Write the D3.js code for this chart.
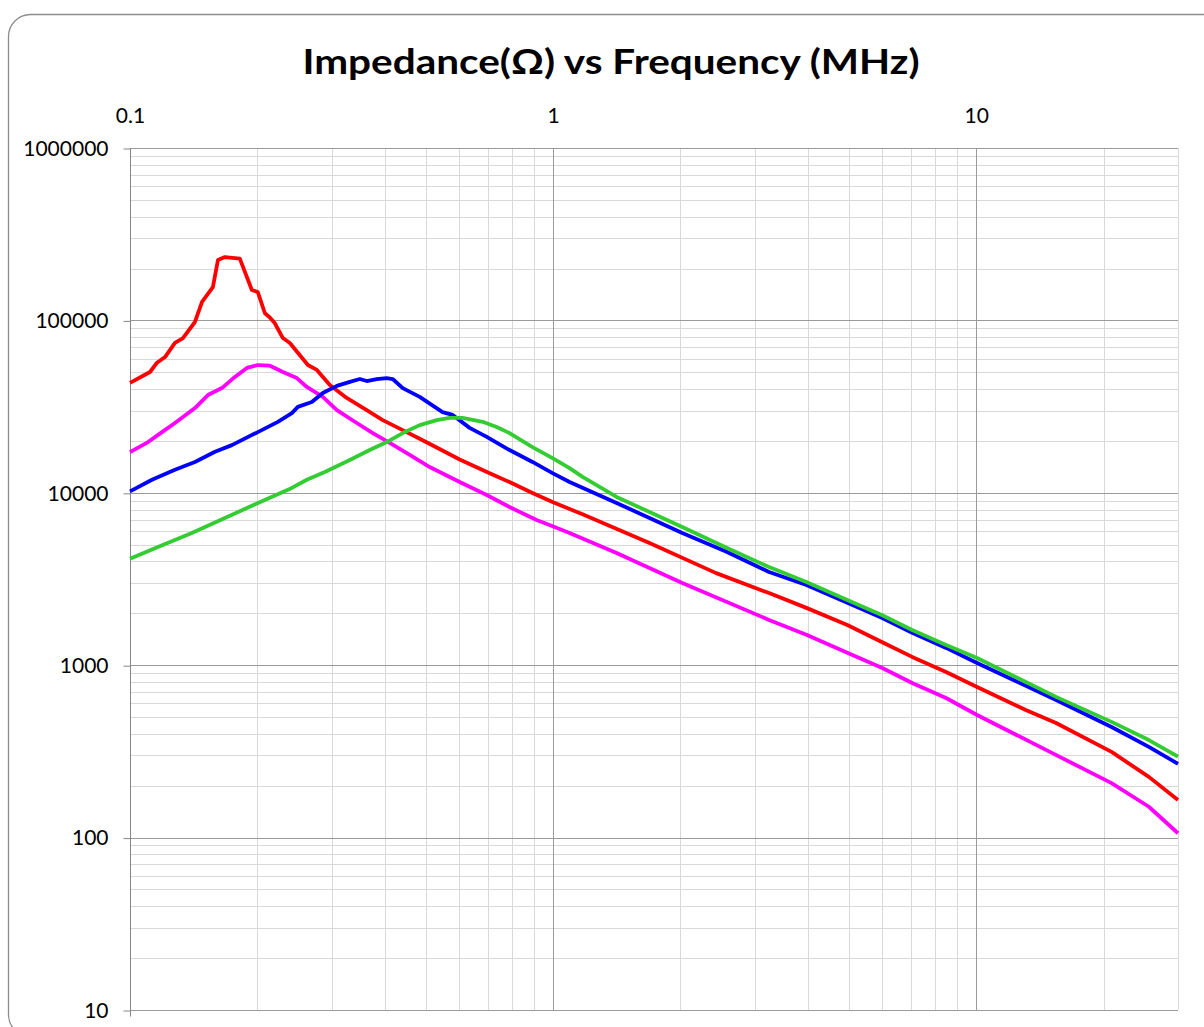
<!DOCTYPE html>
<html>
<head>
<meta charset="utf-8">
<script src="https://cdn.jsdelivr.net/npm/d3@7"></script>
<style>
  body { margin: 0; background: #fff; }
  text { font-family: Lato, "Open Sans", sans-serif; fill: #000; }
</style>
</head>
<body>
<script>
// impedance curves, [frequency MHz, impedance ohm]
const red = [
  [0.1, 43400], [0.1115, 50200], [0.1156, 56600], [0.121, 61300], [0.1277, 74000],
  [0.1334, 79000], [0.1424, 97900], [0.148, 128000], [0.157, 156000], [0.1614, 224000],
  [0.1676, 233000], [0.1818, 228000], [0.1941, 150000], [0.2005, 146000], [0.2084, 110000],
  [0.2141, 104000], [0.2198, 96600], [0.2298, 79000], [0.2387, 74000], [0.2633, 55100],
  [0.2765, 51600], [0.2967, 42200], [0.3253, 35500], [0.3627, 30200], [0.3957, 26400],
  [0.4412, 23100], [0.4839, 20600], [0.5308, 18300], [0.6016, 15600], [0.708, 13000],
  [0.789, 11550], [0.894, 9980], [0.997, 8850], [1.174, 7500], [1.69, 5110],
  [2.43, 3420], [3.24, 2620], [3.97, 2150], [4.96, 1710], [6.0, 1360],
  [7.06, 1117], [8.49, 914], [10.05, 748], [13.1, 550], [15.45, 462],
  [20.9, 314], [25.6, 225], [30, 165]
];
const magenta = [
  [0.1, 17200], [0.1103, 19700], [0.119, 22500], [0.1277, 25400], [0.1424, 31000],
  [0.1528, 36900], [0.1649, 40500], [0.177, 47000], [0.1889, 53000], [0.2005, 55100],
  [0.2141, 54600], [0.2198, 53000], [0.2298, 50200], [0.2479, 46300], [0.2618, 41100],
  [0.2856, 36000], [0.3083, 30200], [0.3436, 25400], [0.3749, 22200], [0.4111, 19500],
  [0.4584, 16600], [0.511, 14100], [0.6016, 11550], [0.697, 9710], [0.789, 8270],
  [0.914, 6950], [0.981, 6500], [1.094, 5850], [1.413, 4480], [2.02, 3000],
  [3.24, 1830], [3.97, 1500], [4.96, 1180], [6.0, 964], [7.06, 789],
  [8.49, 645], [10.05, 514], [15.1, 310], [20.9, 207], [25.6, 151], [30, 106]
];
const blue = [
  [0.1, 10200], [0.1127, 11900], [0.1277, 13600], [0.1424, 15100], [0.1588, 17300],
  [0.1741, 18900], [0.2005, 22500], [0.2236, 25800], [0.2413, 29000], [0.2493, 31500],
  [0.269, 33600], [0.2856, 37900], [0.3083, 41700], [0.3308, 44000], [0.3493, 45700],
  [0.3627, 44500], [0.383, 45700], [0.4044, 46300], [0.4178, 45700], [0.4412, 40500],
  [0.4839, 36000], [0.548, 29400], [0.579, 28300], [0.635, 23800], [0.697, 21100],
  [0.789, 17700], [0.894, 15100], [0.997, 13000], [1.094, 11550], [1.413, 8730],
  [2.02, 5850], [2.57, 4550], [3.24, 3470], [3.97, 2920], [4.96, 2300],
  [6.0, 1880], [7.06, 1540], [8.49, 1260], [10.05, 1030], [15.45, 628],
  [20.9, 438], [25.6, 336], [30, 268]
];
const green = [
  [0.1, 4150], [0.1164, 4850], [0.14, 5850], [0.1676, 7140], [0.2007, 8730],
  [0.2413, 10670], [0.2618, 11900], [0.2887, 13200], [0.3308, 15500], [0.3686, 17700],
  [0.4044, 19700], [0.4412, 22200], [0.4839, 24700], [0.5308, 26400], [0.5697, 27200],
  [0.611, 27200], [0.6817, 25800], [0.7355, 24100], [0.789, 22200], [0.894, 18400],
  [0.997, 15900], [1.094, 13900], [1.174, 12360], [1.413, 9460], [2.02, 6340],
  [2.57, 4800], [3.24, 3710], [3.97, 3040], [4.96, 2390], [6.0, 1950],
  [7.06, 1600], [8.49, 1310], [10.05, 1100], [15.45, 655], [20.9, 469],
  [25.6, 368], [30, 295]
];
const series = [
  { name: "magenta", values: magenta, color: "#ff00ff" },
  { name: "red", values: red, color: "#ff0000" },
  { name: "blue", values: blue, color: "#0000ff" },
  { name: "green", values: green, color: "#33cc33" }
];
const xTickLabels = [0.1, 1, 10];
const yTickLabels = [10, 100, 1000, 10000, 100000, 1000000];
const title = "Impedance(Ω) vs Frequency (MHz)";

const W = 1204, H = 1027;
const margin = {top: 148, right: 26, bottom: 17, left: 130};

const svg = d3.select("body").append("svg")
    .attr("width", W)
    .attr("height", H);

// chart frame (runs off the right and bottom of the picture)
svg.append("rect")
    .attr("x", 8.5).attr("y", 14.5)
    .attr("width", 1220).attr("height", 1022)
    .attr("rx", 22)
    .attr("fill", "#fff")
    .attr("stroke", "#8c8c8c")
    .attr("stroke-width", 1.3);

const x = d3.scaleLog()
    .domain([0.1, 30])
    .range([margin.left, W - margin.right]);
const y = d3.scaleLog()
    .domain([10, 1000000])
    .range([H - margin.bottom, margin.top]);

const isMajor = v => Math.abs(Math.log10(v) - Math.round(Math.log10(v))) < 1e-9;

// gridlines
const grid = svg.append("g");
grid.selectAll(".vminor")
    .data(x.ticks().filter(v => !isMajor(v)))
  .enter().append("line")
    .attr("x1", d => Math.round(x(d)) + 0.5).attr("x2", d => Math.round(x(d)) + 0.5)
    .attr("y1", y(1000000)).attr("y2", y(10))
    .attr("stroke", "#d9d9d9");
grid.selectAll(".hminor")
    .data(y.ticks().filter(v => !isMajor(v)))
  .enter().append("line")
    .attr("x1", x(0.1)).attr("x2", x(30))
    .attr("y1", d => Math.round(y(d)) + 0.5).attr("y2", d => Math.round(y(d)) + 0.5)
    .attr("stroke", "#d9d9d9");
grid.selectAll(".vmajor")
    .data(x.ticks().filter(isMajor))
  .enter().append("line")
    .attr("x1", d => Math.round(x(d)) + 0.5).attr("x2", d => Math.round(x(d)) + 0.5)
    .attr("y1", y(1000000)).attr("y2", y(10))
    .attr("stroke", "#9a9a9a");
grid.selectAll(".hmajor")
    .data(y.ticks().filter(isMajor))
  .enter().append("line")
    .attr("x1", x(0.1)).attr("x2", x(30))
    .attr("y1", d => Math.round(y(d)) + 0.5).attr("y2", d => Math.round(y(d)) + 0.5)
    .attr("stroke", "#9a9a9a");

// y axis on the left
const yAxis = svg.append("g")
    .attr("transform", "translate(" + (margin.left + 0.5) + ",0.5)")
    .call(d3.axisLeft(y)
      .tickValues(yTickLabels)
      .tickFormat(d3.format("d"))
      .tickSize(7)
      .tickPadding(15));
yAxis.select(".domain").attr("stroke", "#868686").attr("d", "M0," + (y(1000000)) + "V" + (y(10) + 6));
yAxis.selectAll(".tick line").attr("stroke", "#868686");
yAxis.selectAll("text")
    .style("font-family", "Lato, sans-serif")
    .style("font-size", "21px")
    .attr("fill", "#000");

// frequency labels along the top
const xAxis = svg.append("g")
    .attr("transform", "translate(0," + margin.top + ")")
    .call(d3.axisTop(x)
      .tickValues(xTickLabels)
      .tickFormat(d => String(d))
      .tickSize(0)
      .tickPadding(25));
xAxis.select(".domain").remove();
xAxis.selectAll("text")
    .style("font-family", "Lato, sans-serif")
    .style("font-size", "21px")
    .attr("fill", "#000");

// curves
const line = d3.line()
    .x(d => x(d[0]))
    .y(d => y(d[1]));
svg.append("g").selectAll("path")
    .data(series)
  .enter().append("path")
    .attr("fill", "none")
    .attr("stroke", d => d.color)
    .attr("stroke-width", 3.8)
    .attr("stroke-linejoin", "round")
    .attr("d", d => line(d.values));

// title, squeezed to the width of the original
svg.append("text")
    .attr("x", 611)
    .attr("y", 74)
    .attr("text-anchor", "middle")
    .attr("textLength", 617)
    .attr("lengthAdjust", "spacingAndGlyphs")
    .style("font-family", "Lato, sans-serif")
    .style("font-weight", "bold")
    .style("font-size", "35px")
    .text(title);
</script>
</body>
</html>
